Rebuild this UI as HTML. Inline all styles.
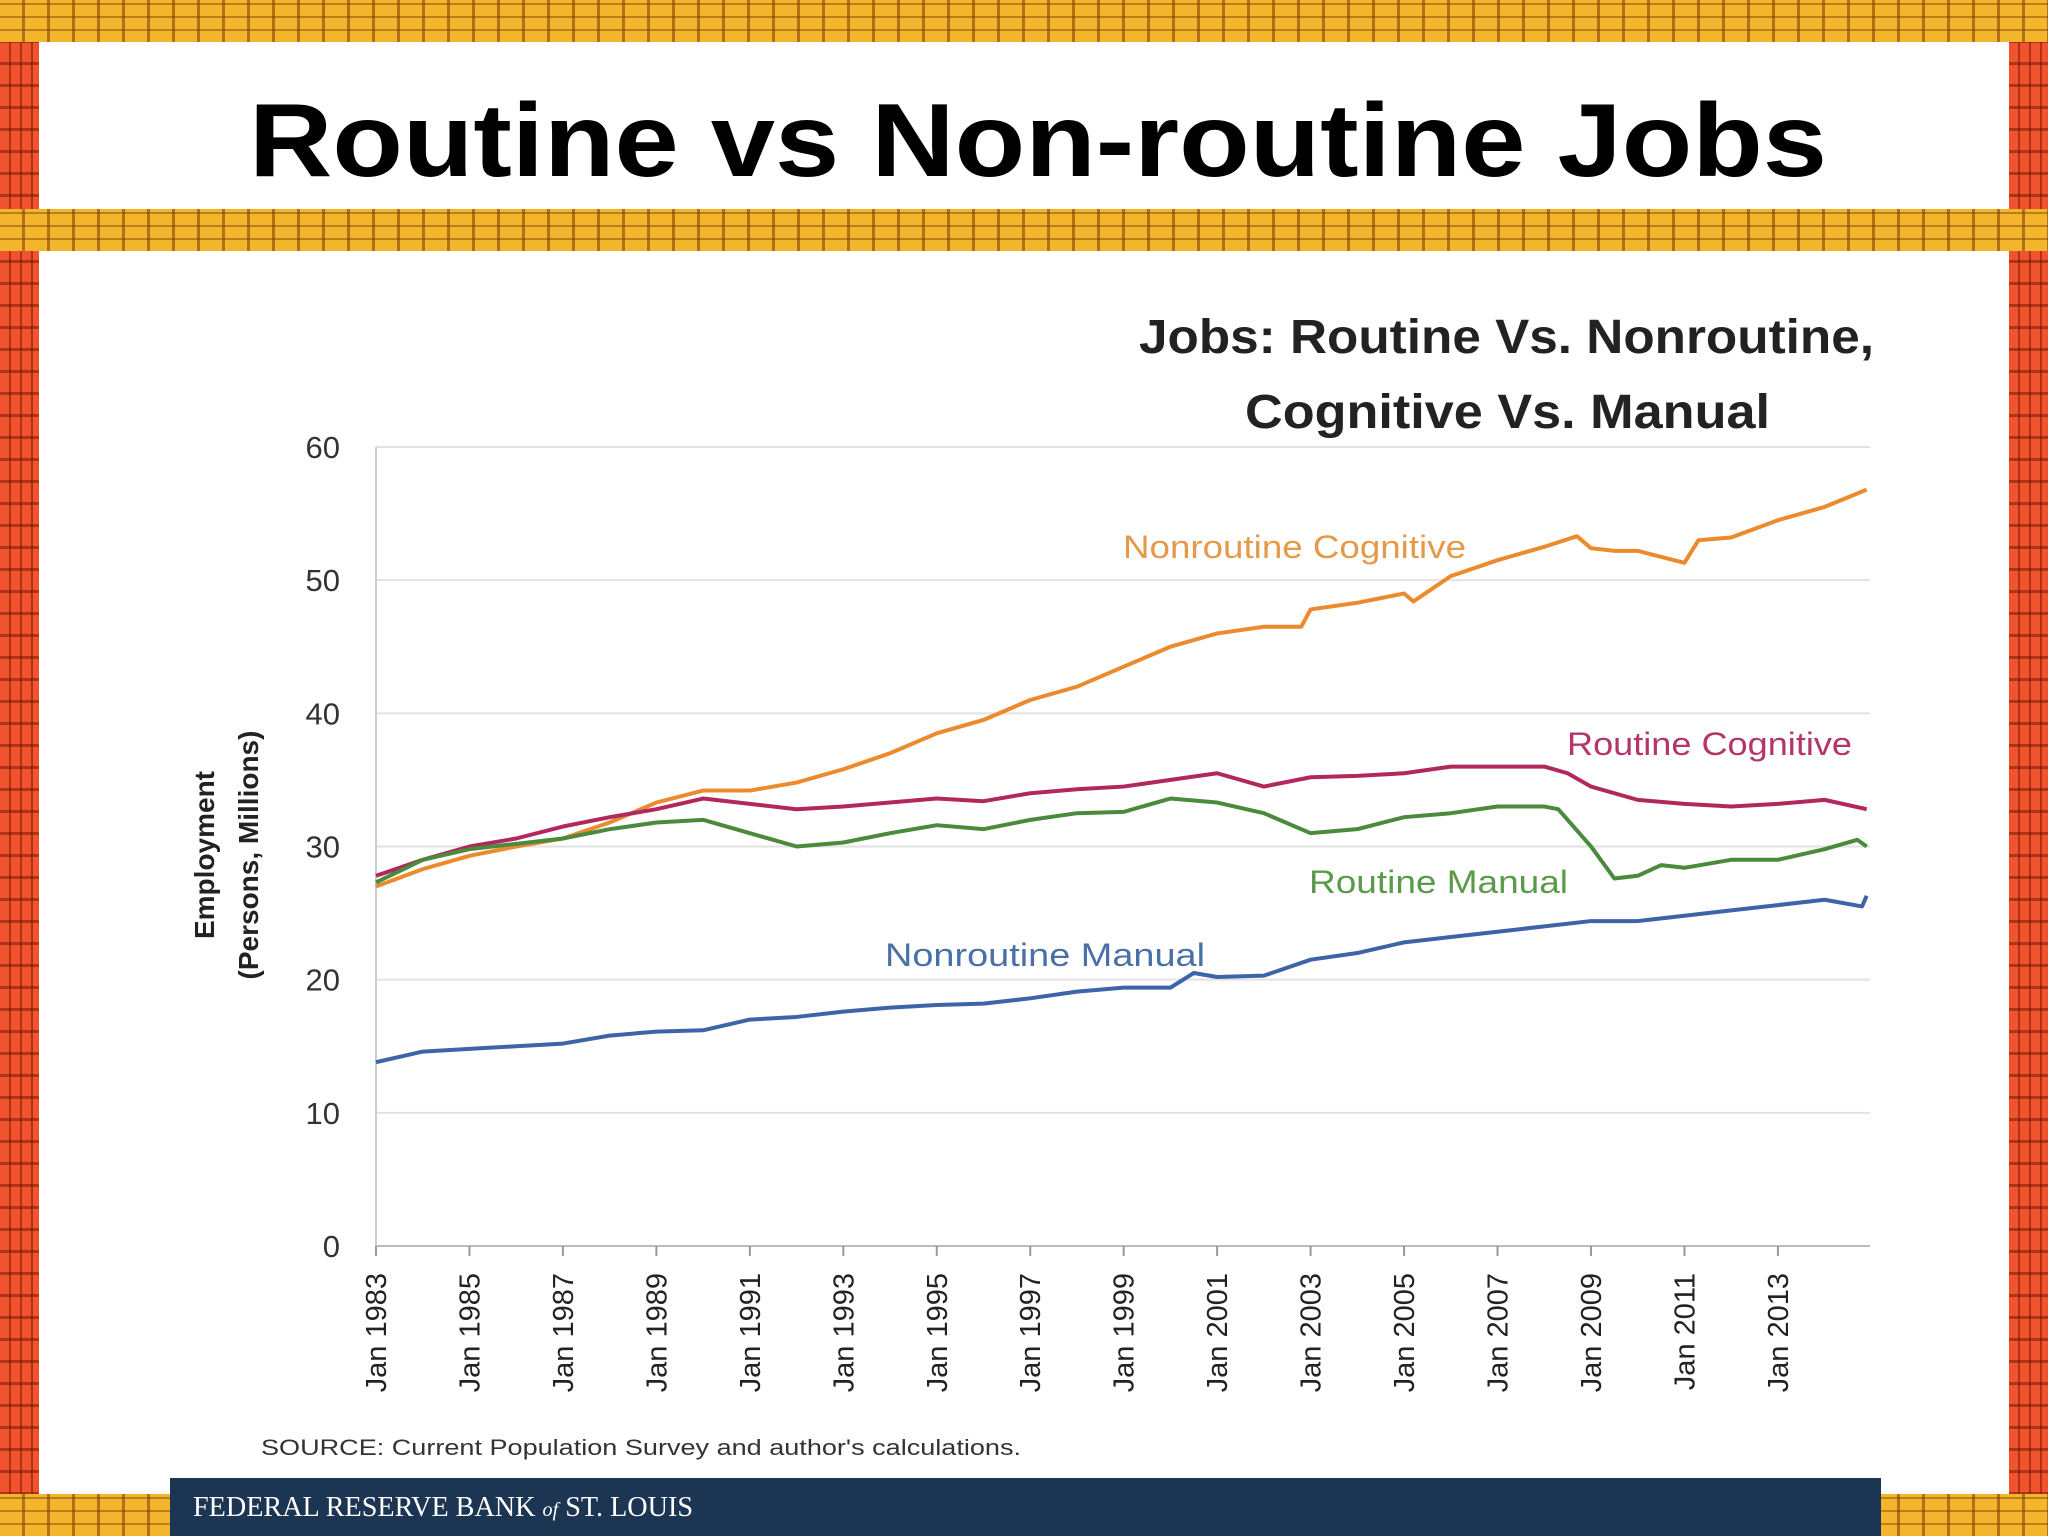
<!DOCTYPE html>
<html><head><meta charset="utf-8"><style>
body{margin:0;width:2048px;height:1536px;overflow:hidden;position:relative;background:#fff;font-family:"Liberation Sans",sans-serif}
.yb{position:absolute;left:0;width:2048px;background-color:#f3b52c;background-image:repeating-linear-gradient(90deg,transparent 0 22px,rgba(120,60,0,.55) 22px 25px),repeating-linear-gradient(0deg,transparent 0 11px,rgba(120,60,0,.45) 11px 13px)}
.rb{position:absolute;width:39px;background-color:#f0532e;background-image:repeating-linear-gradient(90deg,transparent 0 9px,rgba(110,20,0,.5) 9px 11px),repeating-linear-gradient(0deg,transparent 0 19px,rgba(110,20,0,.5) 19px 22px)}
</style></head><body>
<div class="rb" style="left:0;top:0;height:1536px"></div>
<div class="rb" style="left:2009px;top:0;height:1536px"></div>
<div class="yb" style="top:0;height:42px"></div>
<div class="yb" style="top:209px;height:42px"></div>
<div class="yb" style="top:1494px;height:42px"></div>
<div style="position:absolute;left:170px;top:1478px;width:1711px;height:58px;background:#1c3552"></div>
<svg id="s" width="2048" height="1536" style="position:absolute;left:0;top:0">
<text x="1038" y="176" text-anchor="middle" font-family="Liberation Sans" font-weight="bold" font-size="104" textLength="1578" lengthAdjust="spacingAndGlyphs">Routine vs Non-routine Jobs</text>
<text x="1874" y="353" text-anchor="end" font-size="48" font-weight="bold" fill="#222" textLength="735" lengthAdjust="spacingAndGlyphs">Jobs: Routine Vs. Nonroutine,</text>
<text x="1770" y="428" text-anchor="end" font-size="48" font-weight="bold" fill="#222" textLength="525" lengthAdjust="spacingAndGlyphs">Cognitive Vs. Manual</text>
<g id="grid"></g><g id="lines"></g>
<text transform="translate(214,855) rotate(-90)" text-anchor="middle" font-size="28" font-weight="bold" fill="#222">Employment</text>
<text transform="translate(258,855) rotate(-90)" text-anchor="middle" font-size="28" font-weight="bold" fill="#222">(Persons, Millions)</text>
<text x="1123" y="558" font-size="32" fill="#e59a4a" textLength="343" lengthAdjust="spacingAndGlyphs">Nonroutine Cognitive</text>
<text x="1567" y="755" font-size="32" fill="#b3356c" textLength="285" lengthAdjust="spacingAndGlyphs">Routine Cognitive</text>
<text x="1309" y="893" font-size="32" fill="#5a9a4a" textLength="259" lengthAdjust="spacingAndGlyphs">Routine Manual</text>
<text x="885" y="966" font-size="32" fill="#4a70a8" textLength="320" lengthAdjust="spacingAndGlyphs">Nonroutine Manual</text>
<text x="261" y="1455" font-size="22" fill="#333" textLength="760" lengthAdjust="spacingAndGlyphs">SOURCE: Current Population Survey and author's calculations.</text>
<text x="193" y="1516" font-family="Liberation Serif" font-size="28" fill="#fff" textLength="500" lengthAdjust="spacingAndGlyphs">FEDERAL RESERVE BANK <tspan font-style="italic" font-size="20">of</tspan> ST. LOUIS</text>
</svg>
<script>
const yTicks=[0,10,20,30,40,50,60];
const xTickYears=[1983,1985,1987,1989,1991,1993,1995,1997,1999,2001,2003,2005,2007,2009,2011,2013];
const ncX=[1983,1984,1985,1986,1987,1988,1989,1990,1991,1992,1993,1994,1995,1996,1997,1998,1999,2000,2001,2002,2002.8,2003,2004,2005,2005.2,2006,2007,2008,2008.7,2009,2009.5,2010,2011,2011.3,2012,2013,2014,2014.9];
const ncY=[27,28.3,29.3,30,30.6,31.8,33.3,34.2,34.2,34.8,35.8,37,38.5,39.5,41,42,43.5,45,46,46.5,46.5,47.8,48.3,49,48.4,50.3,51.5,52.5,53.3,52.4,52.2,52.2,51.3,53,53.2,54.5,55.5,56.8];
const rcX=[1983,1984,1985,1986,1987,1988,1989,1990,1991,1992,1993,1994,1995,1996,1997,1998,1999,2000,2001,2002,2003,2004,2005,2006,2007,2008,2008.5,2009,2010,2011,2012,2013,2014,2014.9];
const rcY=[27.8,29,30,30.6,31.5,32.2,32.8,33.6,33.2,32.8,33,33.3,33.6,33.4,34,34.3,34.5,35,35.5,34.5,35.2,35.3,35.5,36,36,36,35.5,34.5,33.5,33.2,33,33.2,33.5,32.8];
const rmX=[1983,1984,1985,1986,1987,1988,1989,1990,1991,1992,1993,1994,1995,1996,1997,1998,1999,2000,2001,2002,2003,2004,2005,2006,2007,2008,2008.3,2009,2009.5,2010,2010.5,2011,2012,2013,2014,2014.7,2014.9];
const rmY=[27.3,29,29.8,30.2,30.6,31.3,31.8,32,31,30,30.3,31,31.6,31.3,32,32.5,32.6,33.6,33.3,32.5,31,31.3,32.2,32.5,33,33,32.8,30,27.6,27.8,28.6,28.4,29,29,29.8,30.5,30];
const nmX=[1983,1984,1985,1986,1987,1988,1989,1990,1991,1992,1993,1994,1995,1996,1997,1998,1999,2000,2000.5,2001,2002,2003,2004,2005,2006,2007,2008,2009,2010,2011,2012,2013,2014,2014.8,2014.9];
const nmY=[13.8,14.6,14.8,15,15.2,15.8,16.1,16.2,17,17.2,17.6,17.9,18.1,18.2,18.6,19.1,19.4,19.4,20.5,20.2,20.3,21.5,22,22.8,23.2,23.6,24,24.4,24.4,24.8,25.2,25.6,26,25.5,26.3];
const NS='http://www.w3.org/2000/svg';
const X=y=>376+(y-1983)*46.73, Y=v=>1246-v*13.317;
const grid=document.getElementById('grid'), lines=document.getElementById('lines');
function mk(tag,at,par){const e=document.createElementNS(NS,tag);for(const k in at)e.setAttribute(k,at[k]);par.appendChild(e);return e;}
yTicks.forEach(t=>{
 const l=mk('line',{x1:376,x2:1870,y1:Y(t),y2:Y(t),stroke:t?'#e2e2e2':'#bbb','stroke-width':2},grid);
 
 
 const tx=mk('text',{x:340,y:Y(t)+11,'text-anchor':'end','font-size':31,fill:'#333'},grid);tx.textContent=t;
 
 
});
const ax=mk('line',{x1:376,x2:376,y1:Y(60),y2:Y(0),stroke:'#ccc','stroke-width':2},grid);


xTickYears.forEach(yr=>{
 const x=X(yr);
 const tk=mk('line',{x1:x,x2:x,y1:1246,y2:1256,stroke:'#999','stroke-width':2},grid);
 
 
 const tx=mk('text',{transform:`translate(${x+10},1273) rotate(-90)`,'text-anchor':'end','font-size':29,fill:'#222'},grid);tx.textContent='Jan '+yr;
 
 
});
[[ncX,ncY,'#ec8a2e','nonroutine-cognitive-line'],[rcX,rcY,'#b0285e','routine-cognitive-line'],[rmX,rmY,'#4a8a3c','routine-manual-line'],[nmX,nmY,'#3d64a6','nonroutine-manual-line']].forEach(([xs,ys,c,n])=>{
 const p=mk('polyline',{points:xs.map((x,i)=>X(x)+','+Y(ys[i])).join(' '),fill:'none',stroke:c,'stroke-width':4,'stroke-linejoin':'round'},lines);
 
 
});
</script>
</body></html>
